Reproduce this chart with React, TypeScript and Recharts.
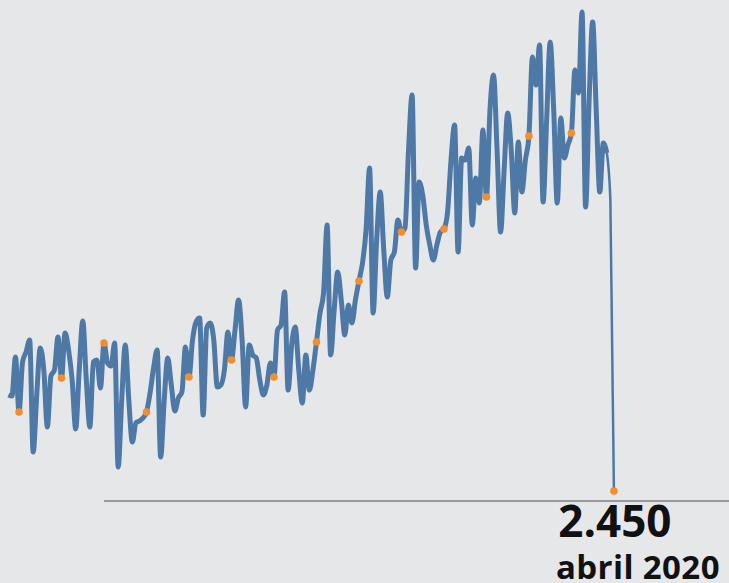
import { LineChart, Line, XAxis, YAxis, ReferenceLine } from 'recharts';

// monthly values, january..december, one array per year
const y2006 = [7250, 7200, 9150, 6400, 8900, 9400, 10000, 4400, 7250, 9600, 8500, 5650];
const y2007 = [8200, 8500, 10150, 8100, 10350, 9500, 8000, 5550, 8500, 10950, 8000, 5650];
const y2008 = [8900, 9000, 7600, 9850, 8850, 8700, 9850, 3650, 7000, 9750, 7000, 4900];
const y2009 = [5850, 5950, 6100, 6400, 7350, 8600, 9500, 4150, 7000, 9100, 7750, 6450];
const y2010 = [7100, 7400, 9650, 8150, 10000, 10900, 11100, 6250, 10600, 10850, 10000, 7650];
const y2011 = [7750, 8500, 10400, 9000, 10500, 12000, 10000, 6650, 9750, 9250, 9100, 8000];
const y2012 = [7250, 7750, 8850, 8150, 10500, 10750, 12400, 7500, 9750, 10650, 8500, 6850];
const y2013 = [9250, 7500, 8500, 9900, 11350, 12350, 15750, 9250, 11500, 13400, 12000, 10250];
const y2014 = [11750, 10850, 12000, 12950, 13850, 15500, 18600, 11350, 15000, 17400, 14500, 12150];
const y2015 = [14000, 14400, 16000, 15400, 15600, 19500, 22250, 13600, 17900, 17250, 15750, 14750];
const y2016 = [14000, 14750, 15400, 15550, 16350, 19000, 20750, 14400, 19100, 19000, 19600, 15750];
const y2017 = [18100, 16850, 20500, 17150, 21500, 23250, 19500, 15400, 18500, 21350, 19500, 16350];
const y2018 = [19900, 17400, 19000, 20200, 24150, 22750, 24750, 16900, 21000, 24900, 21500, 16850];
const y2019 = [21100, 19100, 19750, 20350, 23500, 22350, 26400, 16650, 22000, 25900, 21500, 17400];
const y2020 = [19850, 19350, 17000, 2450];

const years = [y2006, y2007, y2008, y2009, y2010, y2011, y2012, y2013, y2014, y2015, y2016, y2017, y2018, y2019, y2020];
const monthNames = ['enero', 'febrero', 'marzo', 'abril', 'mayo', 'junio', 'julio', 'agosto', 'septiembre', 'octubre', 'noviembre', 'diciembre'];
const firstYear = 2006;
const markedMonth = 3; // abril
const tailFrom = 169; // last stretch drawn thinner

const values = years.flat();
const lastIndex = values.length - 1;

const data = values.map((v, i) => ({
  i,
  main: i <= tailFrom ? v : null,
  tail: i >= tailFrom ? v : null,
}));

const fmt = (n: number) => String(n).replace(/\B(?=(\d{3})+(?!\d))/g, '.');

const lastLabel = `${monthNames[lastIndex % 12]} ${firstYear + Math.floor(lastIndex / 12)}`;

const renderDot = (props: any) => {
  const { cx, cy, index, value } = props;
  if (value == null || cx == null || cy == null || index % 12 !== markedMonth) {
    return <g key={`d${index}`} />;
  }
  if (index === lastIndex) {
    return (
      <g key={`d${index}`}>
        <circle cx={cx} cy={cy} r={3.8} fill="#f28e2b" />
        <text x={cx + 1} y={cy + 46} textAnchor="middle" fontSize={44} fontWeight={700}
          fontFamily="'Open Sans', sans-serif" fill="#111">{fmt(values[lastIndex])}</text>
        <text x={cx + 24} y={cy + 88} textAnchor="middle" fontSize={33} fontWeight={700}
          letterSpacing={0.4} fontFamily="'Open Sans', sans-serif" fill="#111">{lastLabel}</text>
      </g>
    );
  }
  return <circle key={`d${index}`} cx={cx} cy={cy} r={3.8} fill="#f28e2b" />;
};

export default function App() {
  return (
    <div style={{ position: 'absolute', left: 0, top: 0, width: 729, height: 583, background: '#e5e7e9', overflow: 'hidden' }}>
      <LineChart width={729} height={583} data={data} margin={{ top: 0, right: 0, bottom: 82, left: 8.4 }}>
        <XAxis dataKey="i" type="number" domain={[0, 203.5]} hide />
        <YAxis type="number" domain={[1950, 27000]} hide />
        <ReferenceLine segment={[{ x: 27, y: 1950 }, { x: 203.5, y: 1950 }]} stroke="#4a4a4a" strokeWidth={1} />
        <Line dataKey="main" type="monotone" stroke="#4e79a7" strokeWidth={5} dot={renderDot}
          activeDot={false} connectNulls={false} isAnimationActive={false} />
        <Line dataKey="tail" type="monotone" stroke="#4e79a7" strokeWidth={2.5} dot={renderDot}
          activeDot={false} connectNulls={false} isAnimationActive={false} />
      </LineChart>
    </div>
  );
}
